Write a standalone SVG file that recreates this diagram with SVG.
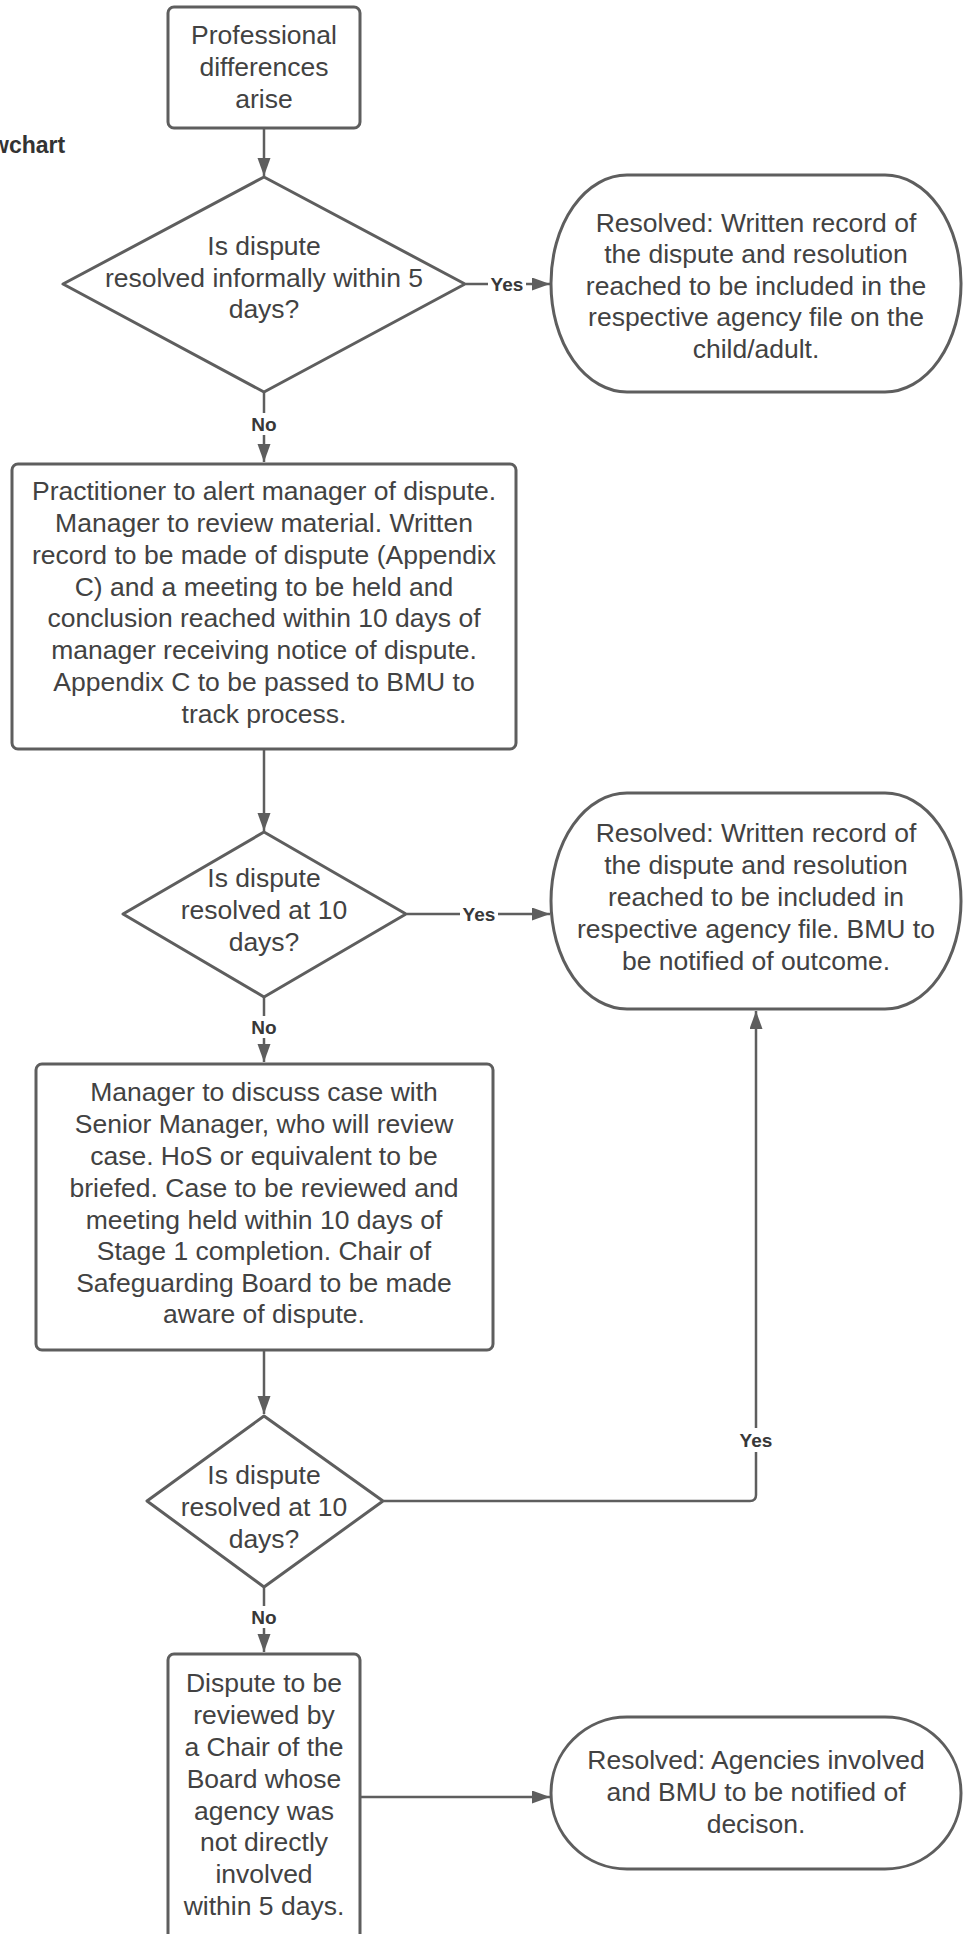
<svg xmlns="http://www.w3.org/2000/svg" width="966" height="1934" viewBox="0 0 966 1934">
<defs>
<marker id="ah" markerUnits="userSpaceOnUse" markerWidth="20" markerHeight="14" refX="18" refY="6.5" orient="auto">
<path d="M0,0 L18,6.5 L0,13 Z" fill="#5e5e5e"/>
</marker>
<style>
.shape{fill:#fff;stroke:#5e5e5e;stroke-width:3;stroke-linejoin:round}
.t{font-family:"Liberation Sans",Arial,sans-serif;font-size:26.5px;fill:#424242;text-anchor:middle}
.lbl{font-family:"Liberation Sans",Arial,sans-serif;font-size:19px;font-weight:bold;fill:#383838;text-anchor:middle}
.conn{fill:none;stroke:#5e5e5e;stroke-width:2.5}
.bg{fill:#fff}
</style>
</defs>
<rect width="966" height="1934" fill="#fff"/>
<text x="-9" y="153" font-family="Liberation Sans, Arial, sans-serif" font-size="23px" font-weight="bold" fill="#333">wchart</text>

<g id="connectors">
<path class="conn" d="M264,128 V176" marker-end="url(#ah)"/>
<path class="conn" d="M466,284 H550" marker-end="url(#ah)"/>
<rect class="bg" x="488" y="272" width="38" height="24"/>
<text class="lbl" x="507" y="291">Yes</text>
<path class="conn" d="M264,392 V462" marker-end="url(#ah)"/>
<rect class="bg" x="250" y="413" width="28" height="22"/>
<text class="lbl" x="264" y="431">No</text>
<path class="conn" d="M407,914 H550" marker-end="url(#ah)"/>
<path class="conn" d="M264,749 V831" marker-end="url(#ah)"/>
<rect class="bg" x="460" y="902" width="38" height="24"/>
<text class="lbl" x="479" y="921">Yes</text>
<path class="conn" d="M264,997 V1062" marker-end="url(#ah)"/>
<rect class="bg" x="250" y="1016" width="28" height="22"/>
<text class="lbl" x="264" y="1034">No</text>
<path class="conn" d="M264,1350 V1414" marker-end="url(#ah)"/>
<path class="conn" d="M384,1501 H750 Q756,1501 756,1495 V1011" marker-end="url(#ah)"/>
<rect class="bg" x="737" y="1428" width="38" height="24"/>
<text class="lbl" x="756" y="1447">Yes</text>
<path class="conn" d="M264,1588 V1652" marker-end="url(#ah)"/>
<rect class="bg" x="250" y="1606" width="28" height="22"/>
<text class="lbl" x="264" y="1624">No</text>
<path class="conn" d="M361,1797 H550" marker-end="url(#ah)"/>
</g>

<g id="start">
<rect class="shape" x="168" y="7" width="192" height="121" rx="6"/>
<text class="t" x="264" y="43.5">Professional</text>
<text class="t" x="264" y="75.5">differences</text>
<text class="t" x="264" y="107.5">arise</text>
</g>

<g id="decision1">
<path class="shape" d="M264,177 L465,284 L264,392 L63,284 Z"/>
<text class="t" x="264" y="255">Is dispute</text>
<text class="t" x="264" y="287">resolved informally within 5</text>
<text class="t" x="264" y="318">days?</text>
</g>

<g id="resolved1">
<rect class="shape" x="551" y="175" width="410" height="217" rx="76" ry="108"/>
<text class="t" x="756" y="231.5">Resolved: Written record of</text>
<text class="t" x="756" y="263">the dispute and resolution</text>
<text class="t" x="756" y="294.5">reached to be included in the</text>
<text class="t" x="756" y="326">respective agency file on the</text>
<text class="t" x="756" y="357.5">child/adult.</text>
</g>

<g id="stage1">
<rect class="shape" x="12" y="464" width="504" height="285" rx="6"/>
<text class="t" x="264" y="500">Practitioner to alert manager of dispute.</text>
<text class="t" x="264" y="532">Manager to review material. Written</text>
<text class="t" x="264" y="564">record to be made of dispute (Appendix</text>
<text class="t" x="264" y="596">C) and a meeting to be held and</text>
<text class="t" x="264" y="627">conclusion reached within 10 days of</text>
<text class="t" x="264" y="659">manager receiving notice of dispute.</text>
<text class="t" x="264" y="691">Appendix C to be passed to BMU to</text>
<text class="t" x="264" y="723">track process.</text>
</g>

<g id="decision2">
<path class="shape" d="M264,832 L406,914 L264,997 L123,914 Z"/>
<text class="t" x="264" y="887">Is dispute</text>
<text class="t" x="264" y="919">resolved at 10</text>
<text class="t" x="264" y="951">days?</text>
</g>

<g id="resolved2">
<rect class="shape" x="551" y="793" width="410" height="216" rx="76" ry="108"/>
<text class="t" x="756" y="842">Resolved: Written record of</text>
<text class="t" x="756" y="874">the dispute and resolution</text>
<text class="t" x="756" y="906">reached to be included in</text>
<text class="t" x="756" y="938">respective agency file. BMU to</text>
<text class="t" x="756" y="970">be notified of outcome.</text>
</g>

<g id="stage2">
<rect class="shape" x="36" y="1064" width="457" height="286" rx="6"/>
<text class="t" x="264" y="1101">Manager to discuss case with</text>
<text class="t" x="264" y="1133">Senior Manager, who will review</text>
<text class="t" x="264" y="1165">case. HoS or equivalent to be</text>
<text class="t" x="264" y="1197">briefed. Case to be reviewed and</text>
<text class="t" x="264" y="1229">meeting held within 10 days of</text>
<text class="t" x="264" y="1260">Stage 1 completion. Chair of</text>
<text class="t" x="264" y="1292">Safeguarding Board to be made</text>
<text class="t" x="264" y="1323">aware of dispute.</text>
</g>

<g id="decision3">
<path class="shape" d="M264,1416 L383,1501 L264,1587 L147,1501 Z"/>
<text class="t" x="264" y="1484">Is dispute</text>
<text class="t" x="264" y="1516">resolved at 10</text>
<text class="t" x="264" y="1548">days?</text>
</g>

<g id="stage3">
<rect class="shape" x="168" y="1654" width="192" height="320" rx="6"/>
<text class="t" x="264" y="1692">Dispute to be</text>
<text class="t" x="264" y="1724">reviewed by</text>
<text class="t" x="264" y="1756">a Chair of the</text>
<text class="t" x="264" y="1788">Board whose</text>
<text class="t" x="264" y="1820">agency was</text>
<text class="t" x="264" y="1851">not directly</text>
<text class="t" x="264" y="1883">involved</text>
<text class="t" x="264" y="1915">within 5 days.</text>
</g>

<g id="resolved3">
<rect class="shape" x="551" y="1717" width="410" height="152" rx="76" ry="76"/>
<text class="t" x="756" y="1769">Resolved: Agencies involved</text>
<text class="t" x="756" y="1801">and BMU to be notified of</text>
<text class="t" x="756" y="1833">decison.</text>
</g>
</svg>
